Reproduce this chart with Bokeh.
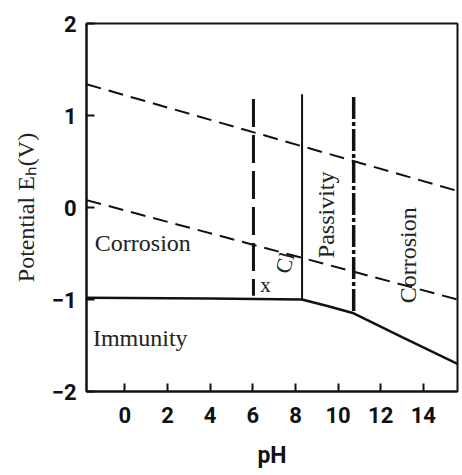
import numpy as np
from bokeh.plotting import figure
from bokeh.models import Label, FixedTicker, Range1d
from bokeh.embed import file_html
from bokeh.resources import INLINE

# ---- data ----
x_ticks = [0, 2, 4, 6, 8, 10, 12, 14]
y_ticks = [-2, -1, 0, 1, 2]

# water stability lines (dashed)
o2_ph = [-1.8, 15.6]
o2_e = [1.34, 0.18]
h2_ph = [-1.8, 15.6]
h2_e = [0.08, -1.00]

# immunity boundary (solid)
imm_ph = [-1.8, 4.0, 8.3, 9.5, 10.73, 13.0, 15.6]
imm_e = [-0.98, -0.99, -1.00, -1.07, -1.15, -1.41, -1.70]

# vertical boundaries
v6_ph = [6.03, 6.03]
v6_e = [1.18, -0.96]
v83_ph = [8.31, 8.31]
v83_e = [1.23, -1.00]
v107_ph = [10.73, 10.73]
v107_e = [1.20, -1.15]

p = figure(frame_width=371, frame_height=368, output_backend="svg", toolbar_location=None,
           x_range=Range1d(-1.8, 15.6), y_range=Range1d(-2, 2),
           min_border_left=86, min_border_right=3, min_border_top=23, min_border_bottom=82)

p.xgrid.visible = False
p.ygrid.visible = False
p.outline_line_color = "#111111"
p.outline_line_width = 2
p.background_fill_color = "white"
p.border_fill_color = "white"

tick_font = "Roboto"
for ax in (p.xaxis[0], p.yaxis[0]):
    ax.axis_line_width = 2
    ax.axis_line_color = "#111111"
    ax.major_tick_in = 8
    ax.major_tick_out = 0
    ax.major_tick_line_width = 2
    ax.major_tick_line_color = "#111111"
    ax.minor_tick_line_color = None
    ax.major_label_text_font = tick_font
    ax.major_label_text_font_style = "bold"
    ax.major_label_text_font_size = "22px"
    ax.major_label_text_color = "#111111"

p.xaxis.ticker = FixedTicker(ticks=x_ticks)
p.yaxis.ticker = FixedTicker(ticks=y_ticks)
p.xaxis.major_label_standoff = 15
p.yaxis.major_label_standoff = 10
p.xaxis.axis_label = "pH"
p.xaxis.axis_label_text_font = tick_font
p.xaxis.axis_label_text_font_style = "bold"
p.xaxis.axis_label_text_font_size = "23px"
p.xaxis.axis_label_text_color = "#111111"
p.xaxis.axis_label_standoff = 16

p.yaxis.axis_label = "Potential E\u2095(V)"
p.yaxis.axis_label_text_font = "Liberation Serif"
p.yaxis.axis_label_text_font_style = "normal"
p.yaxis.axis_label_text_font_size = "24px"
p.yaxis.axis_label_text_color = "#222222"
p.yaxis.axis_label_standoff = 10

ink = "#111111"
p.line(o2_ph, o2_e, line_color=ink, line_width=2, line_dash="15 8")
p.line(h2_ph, h2_e, line_color=ink, line_width=2, line_dash="15 8")
p.line(imm_ph, imm_e, line_color=ink, line_width=2.5)
p.line(v6_ph, v6_e, line_color=ink, line_width=3, line_dash="28 8")
p.line(v83_ph, v83_e, line_color=ink, line_width=2)
p.line(v107_ph, v107_e, line_color=ink, line_width=3.5, line_dash="22 3 4 3")

serif = "Liberation Serif"
def lab(x, y, t, size="24px", angle=0.0, align="left", baseline="middle"):
    p.add_layout(Label(x=x, y=y, text=t, text_font=serif, text_font_size=size,
                       text_color="#222222", angle=angle, angle_units="deg",
                       text_align=align, text_baseline=baseline))

lab(-1.41, -0.39, "Corrosion")
lab(-1.5, -1.42, "Immunity")
lab(9.41, -0.08, "Passivity", angle=90, align="center")
lab(13.27, -0.52, "Corrosion", angle=90, align="center")
lab(6.6, -0.84, "x", size="21px", align="center")
lab(7.5, -0.6, "Cl", size="22px", angle=75, align="center")

open("out.html", "w").write(file_html(p, INLINE))
